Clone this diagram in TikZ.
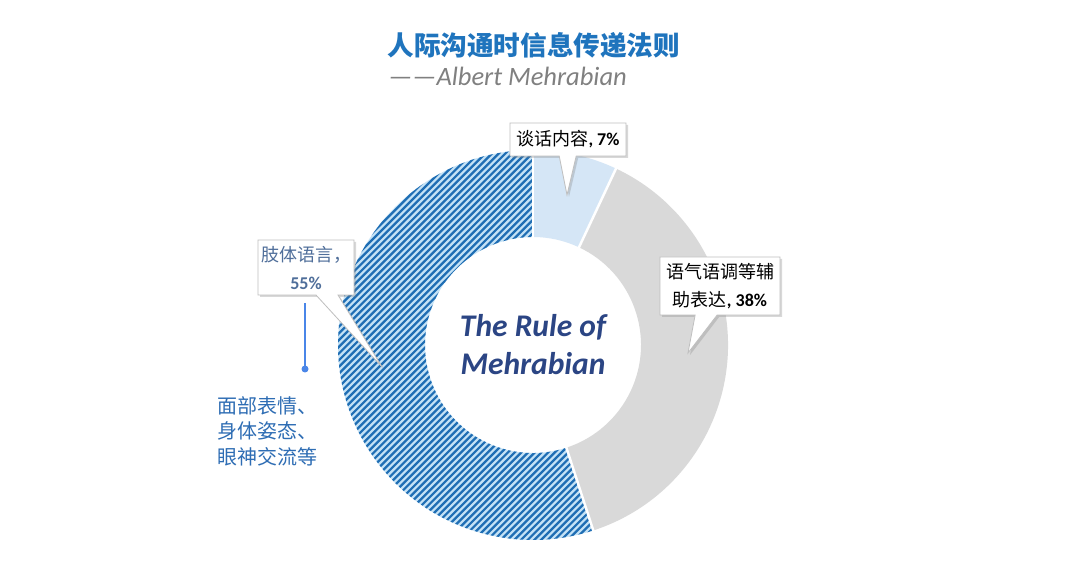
\documentclass[tikz,border=0pt]{standalone}
\usepackage{fontspec}
\setmainfont{Carlito}
\newfontfamily\cjk{Noto Sans CJK SC}
\usetikzlibrary{shapes.callouts,shadows}
\definecolor{titleblue}{HTML}{1F74BD}
\definecolor{rulenavy}{HTML}{2B4584}
\definecolor{stripeblue}{HTML}{1F6EB4}
\definecolor{stripelight}{HTML}{C4E2F6}
\definecolor{paleblue}{HTML}{D5E6F6}
\definecolor{slicegray}{HTML}{D9D9D9}
\definecolor{notegray}{HTML}{4F6E9A}
\definecolor{noteblue}{HTML}{2E6DB4}
\definecolor{markblue}{HTML}{4A86E8}
\tikzset{
    label box/.style={rectangle callout,draw=black!25,fill=white,line width=0.8pt,
        align=center,inner sep=3pt,callout pointer width=22pt,
        drop shadow={shadow xshift=2pt,shadow yshift=-2pt,opacity=0.3}},
    label text/.style={font=\fontsize{18}{28}\selectfont},
}
\begin{document}
\begin{tikzpicture}[x=1pt,y=1pt]
    \useasboundingbox[fill=white] (0,0) rectangle (1080,579);
    \node[anchor=west,text=titleblue,font=\cjk\bfseries\fontsize{26.6}{30}\selectfont] (title) at (384,534) {人际沟通时信息传递法则};
    \node[anchor=west,text=black!50,font=\itshape\fontsize{26.5}{30}\selectfont] (author) at (385,503) {——Albert Mehrabian};

    \begin{scope}[shift={(533,234)}]
        \fill[paleblue] (64.8:195) arc[start angle=64.8,end angle=90,radius=195] -- (90:108) arc[start angle=90,end angle=64.8,radius=108] -- cycle;
        \fill[slicegray] (-72:195) arc[start angle=-72,end angle=64.8,radius=195] -- (64.8:108) arc[start angle=64.8,end angle=-72,radius=108] -- cycle;
        \begin{scope}
            \clip (90:195) arc[start angle=90,end angle=288,radius=195] -- (288:108) arc[start angle=288,end angle=90,radius=108] -- cycle;
            \fill[stripelight] (-200,-200) rectangle (200,200);
            \foreach \c in {-400,-393.3,...,400}
                \draw[stripeblue,line width=2.2] (\c-200,-200) -- (\c+200,200);
        \end{scope}
        \draw[white,line width=2.5] (64.8:105) -- (64.8:198) (-72:105) -- (-72:198);
        \draw[white,line width=1.2] (90:105) -- (90:198);
        \node[text=rulenavy,font=\bfseries\itshape\fontsize{31.5}{38}\selectfont,align=center] (rule) at (0,0) {The Rule of\\Mehrabian};
    \end{scope}

    \node[label box,label text,text=notegray,minimum width=88,minimum height=55,
        callout absolute pointer={(382,212)}] (body) at (306,311.5) {{\cjk 肢体语言，}\\\textbf{55\%}};
    \node[label box,label text,minimum width=116,minimum height=33,callout pointer width=17pt,
        callout absolute pointer={(567,384)}] (talk) at (568,439.5) {{\cjk 谈话内容}\textbf{, 7\%}};
    \node[label box,label text,minimum width=120,minimum height=58,
        callout absolute pointer={(688,226)}] (tone) at (720,293) {{\cjk 语气语调等辅}\\{\cjk 助表达}\textbf{, 38\%}};

    \coordinate (dot) at (305,210);
    \draw[markblue,line width=1.8,shorten <=8] (body.south -| dot) -- (dot);
    \fill[markblue] (dot) circle (3.5);
    \node[anchor=west,align=left,text=noteblue,font=\cjk\fontsize{20}{25.5}\selectfont] (face) at (214,148) {面部表情、\\身体姿态、\\眼神交流等};
\end{tikzpicture}
\end{document}
